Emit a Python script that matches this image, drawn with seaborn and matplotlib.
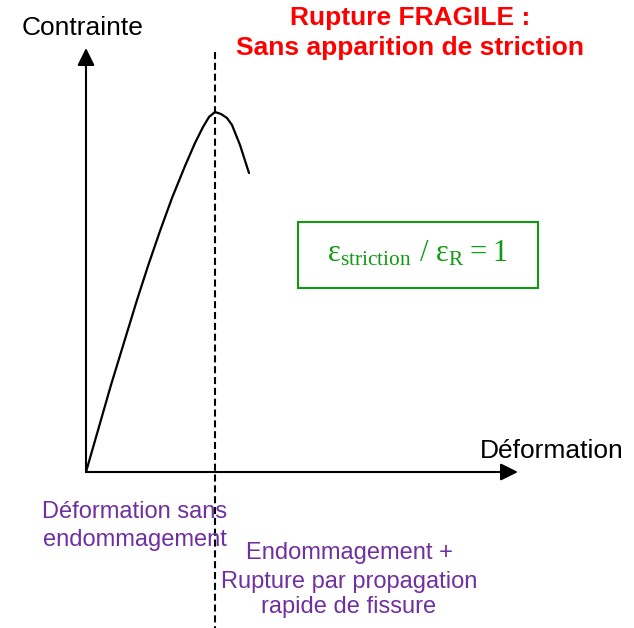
import matplotlib
matplotlib.use("Agg")
import matplotlib.pyplot as plt
from matplotlib.patches import Rectangle
import pandas as pd
import seaborn as sns

# Stress-strain curve of a brittle material (arbitrary units, origin at 0)
strain = [0, 25, 51, 62, 74, 86, 99, 109, 117, 123, 129, 135, 141, 146, 154, 163]
stress = [0, 87, 172, 206, 241, 274, 306, 329, 345, 355, 360, 358, 354, 347, 327, 299]

# Strain at maximum stress: necking strain equals rupture strain
strain_peak = 129

y_label = "Contrainte"
x_label = "Déformation"
title_lines = ["Rupture FRAGILE :", "Sans apparition de striction"]
zone_left = ["Déformation sans", "endommagement"]
zone_right = ["Endommagement +", "Rupture par propagation", "rapide de fissure"]
ratio_text = r"$\mathregular{ε_{striction}\;/\;ε_{R} = 1}$"

sns.set_theme(style="white")
plt.rcParams["font.family"] = ["Liberation Sans", "DejaVu Sans"]

fig = plt.figure(figsize=(6.34, 6.28), dpi=100)
ax = fig.add_axes([0, 0, 1, 1])
ax.set_xlim(-86, 548)
ax.set_ylim(-156, 472)
ax.axis("off")

df = pd.DataFrame({"strain": strain, "stress": stress})
sns.lineplot(data=df, x="strain", y="stress", sort=False, color="black",
             lw=1.6, ax=ax, legend=False, solid_joinstyle="round")

# axes with arrow heads
arrow = dict(arrowstyle="-|>,head_length=1.05,head_width=0.52",
             mutation_scale=10, color="black", lw=1.5,
             shrinkA=0, shrinkB=0)
ax.annotate("", xy=(0, 424), xytext=(0, 0), arrowprops=arrow)
ax.annotate("", xy=(432, 0), xytext=(0, 0), arrowprops=arrow)

# vertical dashed line at the peak
ax.plot([strain_peak, strain_peak], [420, -156], color="black", lw=1.5,
        linestyle=(0, (3.4, 1.8)))

ax.text(-3, 444, y_label, ha="center", va="center", fontsize=19, color="black")
ax.text(466, 21, x_label, ha="center", va="center", fontsize=19, color="black")

red = "#ff0000"
ax.text(324, 454, title_lines[0], ha="center", va="center", fontsize=19,
        color=red, fontweight="bold")
ax.text(324, 424, title_lines[1], ha="center", va="center", fontsize=19,
        color=red, fontweight="bold")

purple = "#7030a0"
for txt, y in zip(zone_left, [-40, -68]):
    ax.text(49, y, txt, ha="center", va="center", fontsize=17, color=purple)
for txt, y in zip(zone_right, [-81, -110, -135]):
    ax.text(263, y, txt, ha="center", va="center", fontsize=17, color=purple)

green = "#129a12"
ax.add_patch(Rectangle((212, 184), 240, 66, fill=False, edgecolor=green, lw=1.5))
ax.text(332, 218, ratio_text, ha="center", va="center", fontsize=22,
        color=green, family=["Liberation Serif", "DejaVu Serif"])

fig.savefig("out.png", dpi=100)
